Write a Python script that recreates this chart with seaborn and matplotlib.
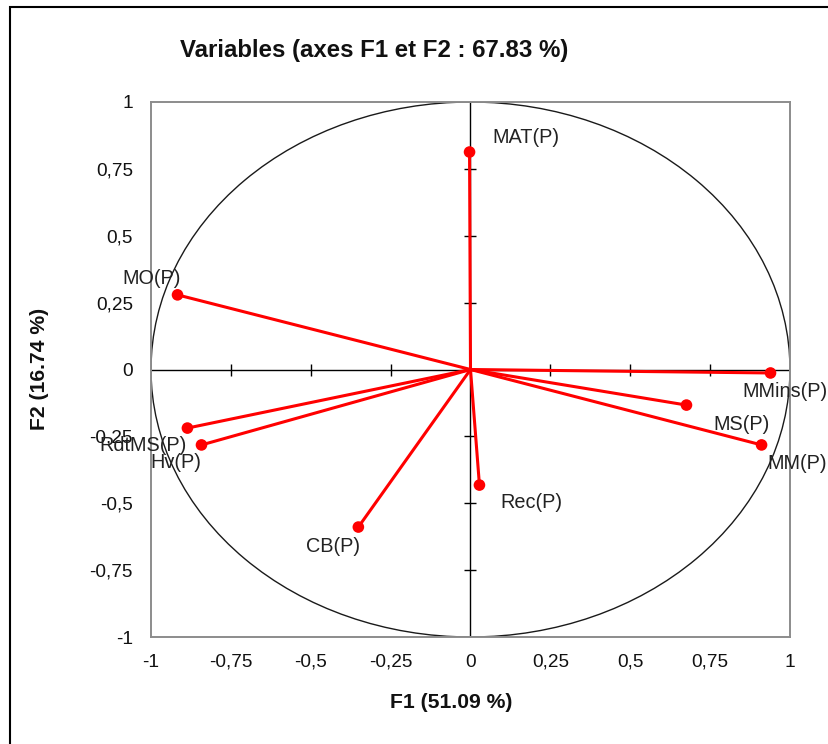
import matplotlib
matplotlib.use("Agg")
import matplotlib.pyplot as plt
from matplotlib.patches import Circle, Rectangle
import seaborn as sns
import pandas as pd

# Variable coordinates on the first two factorial axes
variables = ["MAT(P)", "MO(P)", "MMins(P)", "MS(P)", "MM(P)", "Rec(P)", "CB(P)", "RdtMS(P)", "Hv(P)"]
f1 = [-0.003, -0.917, 0.939, 0.676, 0.911, 0.028, -0.351, -0.886, -0.842]
f2 = [0.813, 0.279, -0.013, -0.133, -0.282, -0.432, -0.589, -0.219, -0.282]

tick_values = [-1, -0.75, -0.5, -0.25, 0, 0.25, 0.5, 0.75, 1]
tick_labels = ["-1", "-0,75", "-0,5", "-0,25", "0", "0,25", "0,5", "0,75", "1"]

title = "Variables (axes F1 et F2 : 67.83 %)"
xlabel = "F1 (51.09 %)"
ylabel = "F2 (16.74 %)"

# label offsets (pixels) and alignment for each variable name
label_style = {
    "MAT(P)":   (23, 15, "left"),
    "MO(P)":    (3, 16, "right"),
    "MMins(P)": (-28, -19, "left"),
    "MS(P)":    (27, -19, "left"),
    "MM(P)":    (6, -19, "left"),
    "Rec(P)":   (21, -17, "left"),
    "CB(P)":    (2, -19, "right"),
    "RdtMS(P)": (-1, -17, "right"),
    "Hv(P)":    (0, -18, "right"),
}

df = pd.DataFrame({"variable": variables, "F1": f1, "F2": f2})

sns.set_theme(style="white")
plt.rcParams["font.family"] = ["Liberation Sans", "DejaVu Sans"]

fig = plt.figure(figsize=(8.29, 7.44), dpi=100)
ax = fig.add_axes([151 / 829, 1 - 637 / 744, 639 / 829, 535 / 744])

ax.set_xlim(-1, 1)
ax.set_ylim(-1, 1)

# correlation circle
ax.add_patch(Circle((0, 0), 1, fill=False, edgecolor="#1a1a1a", lw=1.0, zorder=1))

# central axes with crossing ticks
ax.axhline(0, color="black", lw=1.0, zorder=2)
ax.axvline(0, color="black", lw=1.0, zorder=2)
inner = [t for t in tick_values if t not in (-1, 0, 1)]
ax.plot(inner, [0] * len(inner), ls="none", marker="|", ms=9, mew=1.0, color="black", zorder=2)
ax.plot([0] * len(inner), inner, ls="none", marker="_", ms=9, mew=1.0, color="black", zorder=2)

# vectors from origin
for x, y in zip(df["F1"], df["F2"]):
    ax.plot([0, x], [0, y], color="#ff0000", lw=2.2, solid_capstyle="round", zorder=3)
sns.scatterplot(data=df, x="F1", y="F2", ax=ax, color="#ff0000", s=70,
                edgecolor="none", zorder=4, legend=False)

for name, x, y in zip(df["variable"], df["F1"], df["F2"]):
    dx, dy, ha = label_style[name]
    ax.annotate(name, (x, y), xytext=(dx, dy), textcoords="offset pixels",
                ha=ha, va="center", fontsize=14.3, color="#222222", zorder=5)

ax.set_xticks(tick_values)
ax.set_xticklabels(tick_labels)
ax.set_yticks(tick_values)
ax.set_yticklabels(tick_labels)
ax.tick_params(axis="both", length=0, labelsize=13.7, colors="#111111")
ax.tick_params(axis="x", pad=12)
ax.tick_params(axis="y", pad=13)
ax.set_xlabel("")
ax.set_ylabel("")

for s in ax.spines.values():
    s.set_visible(True)
    s.set_color("#8c8c8c")
    s.set_linewidth(1.4)

fig.text(374 / 829, 1 - 51 / 744, title, ha="center", va="center",
         fontsize=17.3, fontweight="bold", color="#111111")
fig.text(451 / 829, 1 - 703 / 744, xlabel, ha="center", va="center",
         fontsize=15.2, fontweight="bold", color="#111111")
fig.text(40 / 829, 1 - 369 / 744, ylabel, ha="center", va="center",
         rotation=90, fontsize=15.2, fontweight="bold", color="#111111")

# outer frame
fig.patches.append(Rectangle((10 / 829, -0.1), 1.2, 1 - 7 / 744 + 0.1,
                             transform=fig.transFigure, fill=False,
                             edgecolor="black", lw=1.5))

fig.savefig("out.png", dpi=100, facecolor="white")
